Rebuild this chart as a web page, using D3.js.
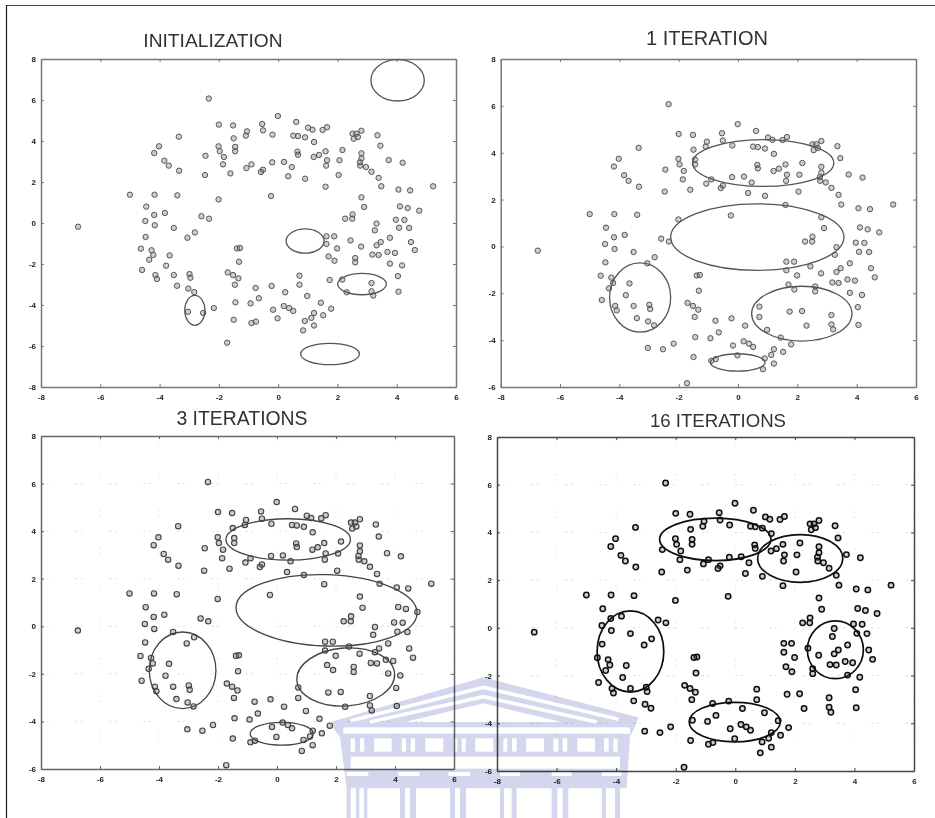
<!DOCTYPE html>
<html><head><meta charset="utf-8">
<script src="https://cdn.jsdelivr.net/npm/d3@7/dist/d3.min.js"></script>
<style>html,body{margin:0;padding:0;background:#fff}svg{display:block}</style>
</head><body><div id="c"></div>
<script>
// ---- data ----
const panelTitles = ["INITIALIZATION","1 ITERATION","3 ITERATIONS","16 ITERATIONS"];
const xTickValues = [-8,-6,-4,-2,0,2,4,6];
const yTicksFull = [-8,-6,-4,-2,0,2,4,6,8];
const yTicksShort = [-6,-4,-2,0,2,4,6,8];
const pointX = [-6.75,-2.34,-5,-4.17,-3.4,-2.01,-.24,-4.45,-4.18,-3.82,-4.48,-4.16,-3.52,-4.47,-3.06,-2.81,-2.59,-2.33,-4.63,-4.27,-4.21,-4.35,-3.66,-3.78,-4.59,-4.14,-4.09,-3.52,-3.41,-2.99,-2.96,-3.03,-2.83,-3.04,-2.53,-2.17,-4.02,-4.18,-3.35,-3.84,-3.69,-3.34,-2.45,-2.47,-2,-1.52,-1.5,-2.01,-1.97,-1.83,-1.86,-1.61,-1.45,-1.45,-1.09,-1.05,-.54,-.51,-.01,-.19,.61,1.01,1.16,1.5,1.65,.51,.67,.91,1.21,.65,.67,1.2,1.38,1.6,1.65,1.62,2.07,2.17,2.51,2.81,2.64,2.55,2.69,3.35,3.45,2.81,2.81,2.76,2.77,2.96,3.15,3.39,3.48,3.73,4.2,2.04,1.6,.91,.34,.46,.2,-.2,-.51,-.58,-.9,-1.07,4.06,4.45,5.23,2.81,2.9,4.11,4.37,4.76,2.26,2.51,2.5,3.32,3.26,3.97,4.26,4.08,4.42,4.48,3.77,3.46,3.32,2.44,2.8,1.99,1.63,1.89,1.63,3.18,3.39,3.69,3.94,4.61,3.77,4.18,1.7,1.9,2.6,2.6,4.04,4.06,1.74,2.16,3.15,3.15,3.21,2.31,.72,.72,.98,.24,-.22,-.76,-.65,-.93,-1.44,-1.29,-1.39,-1.32,-1.7,-1.52,-1.34,-1.46,1.44,1.79,-.17,.19,.37,.51,-.02,1.21,1.12,.9,1.52,1.21,.84,-1.5,-.9,-.75,-1.72];
const pointY = [-.18,6.07,1.38,1.38,1.35,1.15,1.32,.8,.39,.49,.1,-.11,-.24,-.68,-.72,-.46,.33,.21,-1.25,-1.33,-1.56,-1.79,-1.58,-2.08,-2.29,-2.54,-2.73,-2.54,-3.06,-2.49,-2.67,-3.2,-3.37,-4.33,-4.39,-4.15,3.74,3.41,4.21,3.04,2.8,2.55,3.28,2.34,4.8,4.76,4.13,3.74,3.5,3.22,2.86,2.42,3.71,3.5,4.26,4.47,4.83,4.52,5.22,4.31,4.93,4.65,4.55,4.54,4.67,4.26,4.24,4.18,3.95,3.48,3.33,3.22,3.32,3.5,3.06,2.8,3.06,3.56,4.36,4.5,4.36,4.11,4.2,4.28,3.77,3.4,3.15,2.96,2.8,2.73,2.5,2.2,1.79,3.07,2.94,2.34,1.77,2.16,2.28,2.73,2.98,2.96,2.6,2.49,2.86,2.68,1.63,1.59,1.79,1.25,.78,.81,.73,.6,.21,.42,.21,-.03,-.36,.16,.15,-.23,-.24,-.93,-.72,-.93,-1.09,-.85,-1.15,-1.24,-.65,-.65,-1.02,-1.54,-1.56,-1.41,-1.46,-1.32,-1.98,-2.07,-1.63,-1.84,-1.71,-1.92,-2.59,-3.35,-2.78,-2.76,-2.93,-3.33,-3.54,-3.38,-2.57,-3.01,-3.56,-3.38,-3.07,-3.17,-3.67,-3.92,-3.87,-1.22,-1.24,-1.89,-2.41,-2.54,-2.7,-3.01,-3.89,-4.18,-4.23,-4.05,-4.15,-4.29,-4.65,-4.39,-4.63,-4.78,-4.5,-5,-5.24,-4.72,-4.88,-4.81,-5.84];
// ellipses: [centre x, centre y, half width, half height, tilt in degrees]
const ellipsesInit = [[4.03,6.96,.9,1.01,0],[.91,-.88,.64,.59,0],[2.83,-2.98,.82,.52,0],[-2.81,-4.26,.34,.73,0],[1.75,-6.39,.99,.52,0]];
const ellipsesIter1 = [[.85,3.56,2.38,1,0],[.65,.4,2.92,1.42,0],[-3.3,-2.18,1.03,1.48,0],[2.15,-2.87,1.69,1.17,0],[-.01,-4.95,.92,.37,0]];
const ellipsesIter3 = [[.38,3.65,2.11,.87,0],[1.68,.67,3.07,1.5,2],[-3.2,-1.85,1.13,1.61,0],[2.33,-2.13,1.66,1.22,-4],[.16,-4.52,1.07,.48,0]];
const ellipsesIter16 = [[-.67,3.71,1.87,.89,0],[2.18,2.91,1.43,1,0],[-3.52,-.99,1.12,1.7,0],[3.36,-.92,.94,1.21,0],[-.02,-3.95,1.53,.83,0]];
const ellipseSets = [ellipsesInit,ellipsesIter1,ellipsesIter3,ellipsesIter16];

// ---- layout & style ----
const W=935,H=818;
const panels=[
 {l:41, r:456,t:59, b:387,yMin:-8,yT:yTicksFull, tx:213,ty:47, mark:"#555",mw:1,  fr:"#777",fw:1.5,tc:"#333",ts:19.2},
 {l:500.7,r:916,t:59,b:387,yMin:-6,yT:yTicksShort,tx:707,ty:45, mark:"#555",mw:1,  fr:"#777",fw:1.5,tc:"#333",ts:20},
 {l:41, r:454,t:436,b:769,yMin:-6,yT:yTicksShort,tx:242,ty:425,mark:"#444",mw:1.1,fr:"#666",fw:1.5,tc:"#333",ts:19.4},
 {l:497,r:914,t:437,b:771,yMin:-6,yT:yTicksShort,tx:718,ty:427,mark:"#111",mw:1.5,fr:"#444",fw:1.5,tc:"#333",ts:18.6}
];
const svg=d3.select("#c").append("svg").attr("width",W).attr("height",H);
svg.append("rect").attr("width",W).attr("height",H).attr("fill","#fff");
const defs=svg.append("defs");
defs.append("filter").attr("id","soft").attr("x","-5%").attr("y","-5%").attr("width","110%").attr("height","110%")
  .append("feGaussianBlur").attr("stdDeviation",.55);
const root=svg.append("g").attr("filter","url(#soft)");

// page border
root.append("line").attr("x1",6).attr("x2",W).attr("y1",5.5).attr("y2",5.5).attr("stroke","#444").attr("stroke-width",1.2);
root.append("line").attr("x1",6.5).attr("x2",6.5).attr("y1",5).attr("y2",H).attr("stroke","#222").attr("stroke-width",1.2);

const fmt=d=>String(d);
panels.forEach((p,i)=>{
  const x=d3.scaleLinear().domain([-8,6]).range([p.l,p.r]);
  const y=d3.scaleLinear().domain([p.yMin,8]).range([p.b,p.t]);
  const g=root.append("g");
  g.append("text").attr("x",p.tx).attr("y",p.ty).attr("text-anchor","middle")
    .attr("font-family","Liberation Sans").attr("font-size",p.ts).attr("fill",p.tc).text(panelTitles[i]);
  // faint dotted grid as in the scan
  if(i>=2){
    g.append("g").selectAll("line").data(p.yT.slice(1,-1)).join("line")
      .attr("x1",p.l).attr("x2",p.r).attr("y1",d=>y(d)).attr("y2",d=>y(d))
      .attr("stroke","#d8d8d8").attr("stroke-width",.8).attr("stroke-dasharray","3 3 2 26");
    g.append("g").selectAll("line").data(xTickValues.slice(1)).join("line")
      .attr("y1",p.t).attr("y2",p.b).attr("x1",d=>x(d)).attr("x2",d=>x(d))
      .attr("stroke","#e2e2e2").attr("stroke-width",.8).attr("stroke-dasharray","2 3 2 30");
  }
  const style=s=>{
    s.selectAll("path").attr("stroke",p.fr).attr("stroke-width",p.fw);
    s.selectAll("line").attr("stroke",p.fr).attr("stroke-width",1);
    s.selectAll("text").attr("font-family","Liberation Sans").attr("font-weight","bold").attr("font-size",8).attr("fill","#222");
  };
  g.append("g").attr("transform",`translate(0,${p.b})`)
    .call(d3.axisBottom(x).tickValues(xTickValues).tickFormat(fmt).tickSizeInner(-3).tickSizeOuter(0).tickPadding(7)).call(style);
  g.append("g").attr("transform",`translate(${p.l},0)`)
    .call(d3.axisLeft(y).tickValues(p.yT).tickFormat(fmt).tickSizeInner(-3).tickSizeOuter(0).tickPadding(5)).call(style);
  g.append("g").attr("transform",`translate(0,${p.t})`)
    .call(d3.axisTop(x).tickValues(xTickValues).tickFormat("").tickSizeInner(-3).tickSizeOuter(0)).call(style);
  g.append("g").attr("transform",`translate(${p.r},0)`)
    .call(d3.axisRight(y).tickValues(p.yT).tickFormat("").tickSizeInner(-3).tickSizeOuter(0)).call(style);
  // points
  g.append("g").selectAll("circle").data(pointX.map((v,k)=>[v,pointY[k]])).join("circle")
    .attr("cx",d=>x(d[0])).attr("cy",d=>y(d[1])).attr("r",2.7)
    .attr("fill","rgba(90,90,90,.3)").attr("stroke",p.mark).attr("stroke-width",p.mw);
  // ellipses
  g.append("g").selectAll("ellipse").data(ellipseSets[i]).join("ellipse")
    .attr("cx",d=>x(d[0])).attr("cy",d=>y(d[1]))
    .attr("rx",d=>x(d[0]+d[2])-x(d[0])).attr("ry",d=>y(d[1])-y(d[1]+d[3]))
    .attr("transform",d=>`rotate(${d[4]} ${x(d[0])} ${y(d[1])})`)
    .attr("fill","none").attr("stroke",p.mark).attr("stroke-width",i==3?1.7:1.3);
});

// watermark building, multiplied over the page
const blue="#d3d6ec";
const wm=root.append("g").attr("transform","translate(320,660) scale(.3333)").style("mix-blend-mode","multiply");
wm.append("rect").attr("width",1020).attr("height",480).attr("y",-10).attr("fill","#fff");
wm.append("polygon").attr("points","35,185 490,52 955,172 945,200 930,230 920,385 80,385 60,230 40,205").attr("fill",blue);
wm.append("polyline").attr("points","92,182 490,82 895,178").attr("fill","none").attr("stroke","#fff").attr("stroke-width",11);
wm.append("polyline").attr("points","150,186 490,110 830,186").attr("fill","none").attr("stroke","#fff").attr("stroke-width",11);
wm.append("polygon").attr("points","255,186 490,130 725,186").attr("fill","#fff");
wm.append("rect").attr("x",70).attr("y",202).attr("width",860).attr("height",19).attr("fill","#fff");
const wins=[[92,105],[120,133],[162,215],[245,258],[272,285],[316,370],[402,412],[425,437],[466,520],[550,562],[576,590],[618,672],[700,715],[728,742],[772,825],[852,866],[880,893]];
wm.selectAll("rect.w").data(wins).join("rect").attr("class","w").attr("x",d=>d[0]).attr("width",d=>d[1]-d[0]).attr("y",235).attr("height",40).attr("fill","#fff");
wm.append("rect").attr("x",92).attr("y",290).attr("width",808).attr("height",36).attr("fill","#fff");
const slots=[[80,145],[235,298],[385,450],[540,600],[695,755],[845,905]];
wm.selectAll("rect.s").data(slots).join("rect").attr("class","s").attr("x",d=>d[0]).attr("width",d=>d[1]-d[0]).attr("y",336).attr("height",12).attr("fill","#fff");
const cols=[[80,92],[108,118],[132,142],[240,255],[270,288],[390,405],[420,438],[540,552],[575,590],[695,712],[728,745],[845,858],[885,900]];
wm.selectAll("rect.c").data(cols).join("rect").attr("class","c").attr("x",d=>d[0]).attr("width",d=>d[1]-d[0]).attr("y",380).attr("height",95).attr("fill",blue);
</script></body></html>
